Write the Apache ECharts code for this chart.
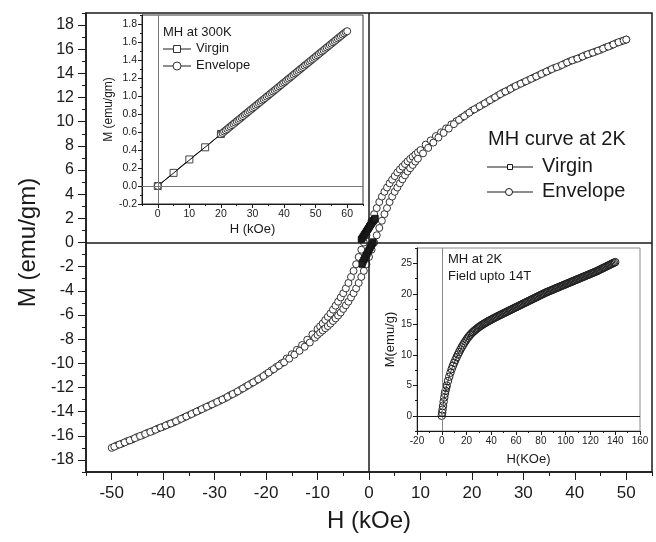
<!DOCTYPE html>
<html>
<head>
<meta charset="utf-8">
<script src="https://cdn.jsdelivr.net/npm/echarts@6.0.0/dist/echarts.min.js"></script>
<style>
  html, body { margin: 0; padding: 0; background: #fff; }
  #chart { width: 656px; height: 542px; }
</style>
</head>
<body>
<div id="chart"></div>
<script>
// ---- main loop at 2K (H in kOe, M in emu/gm) ----
// branch coming down from +50 kOe
const downH = [
  -50, -49, -48, -47, -46, -45, -44, -43, -42, -41, -40, -39, -38, -37, -36, -35, -34, -33, -32, -31,
  -30, -29, -28, -27, -26, -25, -24, -23, -22, -21, -20, -19, -18, -17, -16, -15, -14, -13, -12, -11, -10,
  -9.5, -9, -8.5, -8, -7.5, -7, -6.5, -6, -5.5, -5, -4.5, -4, -3.5, -3, -2.5, -2, -1.5, -1, -0.5,
  0, 0.5, 1, 1.5, 2, 2.5, 3, 3.5, 4, 4.5, 5, 5.5, 6, 6.5, 7, 7.5, 8, 8.5, 9, 9.5,
  10, 11, 12, 13, 14, 15, 16, 17, 18, 19, 20, 21, 22, 23, 24, 25, 26, 27, 28, 29, 30,
  31, 32, 33, 34, 35, 36, 37, 38, 39, 40, 41, 42, 43, 44, 45, 46, 47, 48, 49, 50
];
const downM = [
  -17.0, -16.8, -16.65, -16.45, -16.3, -16.1, -15.95, -15.75, -15.6, -15.4, -15.25, -15.05, -14.9, -14.7, -14.5, -14.3, -14.1, -13.9, -13.7, -13.5,
  -13.3, -13.1, -12.9, -12.65, -12.45, -12.2, -11.95, -11.7, -11.45, -11.2, -10.9, -10.6, -10.3, -10.0, -9.6, -9.25, -8.88, -8.49, -8.05, -7.6, -7.16,
  -6.94, -6.7, -6.42, -6.15, -5.88, -5.56, -5.23, -4.9, -4.55, -4.2, -3.8, -3.35, -2.85, -2.35, -1.8, -1.2, -0.6, 0, 0.6,
  1.2, 1.8, 2.35, 2.85, 3.35, 3.8, 4.2, 4.55, 4.9, 5.2, 5.5, 5.8, 6.05, 6.28, 6.5, 6.72, 6.92, 7.1, 7.28, 7.47,
  7.65, 8.1, 8.45, 8.81, 9.12, 9.45, 9.78, 10.05, 10.33, 10.62, 10.92, 11.15, 11.4, 11.65, 11.9, 12.15, 12.4, 12.6, 12.85, 13.05, 13.25,
  13.45, 13.65, 13.85, 14.05, 14.25, 14.45, 14.6, 14.8, 15.0, 15.15, 15.3, 15.5, 15.65, 15.8, 15.95, 16.15, 16.3, 16.5, 16.65, 16.8
];
// branch going up from -50 kOe (measured on the half-step grid)
const upH = [
  -49.5, -48.5, -47.5, -46.5, -45.5, -44.5, -43.5, -42.5, -41.5, -40.5, -39.5, -38.5, -37.5, -36.5, -35.5, -34.5, -33.5, -32.5, -31.5, -30.5,
  -29.5, -28.5, -27.5, -26.5, -25.5, -24.5, -23.5, -22.5, -21.5, -20.5, -19.5, -18.5, -17.5, -16.5, -15.5, -14.5, -13.5, -12.5, -11.5, -10.5,
  -10, -9.5, -9, -8.5, -8, -7.5, -7, -6.5, -6, -5.5, -5, -4.5, -4, -3.5, -3, -2.5, -2, -1.5, -1, -0.5,
  0, 0.5, 1, 1.5, 2, 2.5, 3, 3.5, 4, 4.5, 5, 5.5, 6, 6.5, 7, 7.5, 8, 8.5, 9, 9.5,
  10.5, 11.5, 12.5, 13.5, 14.5, 15.5, 16.5, 17.5, 18.5, 19.5, 20.5, 21.5, 22.5, 23.5, 24.5, 25.5, 26.5, 27.5, 28.5, 29.5,
  30.5, 31.5, 32.5, 33.5, 34.5, 35.5, 36.5, 37.5, 38.5, 39.5, 40.5, 41.5, 42.5, 43.5, 44.5, 45.5, 46.5, 47.5, 48.5, 49.5, 50
];
const upM = [
  -16.9, -16.72, -16.55, -16.38, -16.2, -16.02, -15.85, -15.68, -15.5, -15.32, -15.15, -14.98, -14.8, -14.6, -14.4, -14.2, -14.0, -13.8, -13.6, -13.4,
  -13.2, -13.0, -12.78, -12.55, -12.32, -12.08, -11.82, -11.58, -11.32, -11.06, -10.77, -10.48, -10.19, -9.92, -9.62, -9.29, -8.97, -8.63, -8.28, -7.88,
  -7.65, -7.47, -7.28, -7.1, -6.92, -6.72, -6.5, -6.28, -6.05, -5.8, -5.5, -5.2, -4.9, -4.55, -4.2, -3.8, -3.35, -2.85, -2.35, -1.8,
  -1.2, -0.6, 0, 0.6, 1.2, 1.8, 2.35, 2.85, 3.35, 3.8, 4.2, 4.55, 4.9, 5.23, 5.56, 5.88, 6.15, 6.42, 6.7, 6.94,
  7.38, 7.83, 8.27, 8.69, 9.07, 9.43, 9.8, 10.15, 10.45, 10.75, 11.03, 11.28, 11.52, 11.78, 12.02, 12.28, 12.5, 12.72, 12.95, 13.15,
  13.35, 13.55, 13.75, 13.95, 14.15, 14.35, 14.52, 14.7, 14.9, 15.08, 15.22, 15.4, 15.58, 15.72, 15.88, 16.05, 16.22, 16.4, 16.58, 16.72, 16.8
];
// virgin points near the origin (two short runs, null = break)
const virginH = [-1.5, -1.3, -1.1, -0.9, -0.7, -0.5, -0.3, -0.1, 0.1, 0.3, 0.5, 0.7, 0.9, 1.05, 1.2, null,
  0.8, 0.6, 0.4, 0.2, 0, -0.2, -0.4, -0.6, -0.8, -1.0, -1.2, -1.35];
const virginM = [0.25, 0.38, 0.52, 0.65, 0.78, 0.92, 1.05, 1.18, 1.32, 1.45, 1.58, 1.7, 1.8, 1.9, 2.0, null,
  0.05, -0.12, -0.28, -0.45, -0.62, -0.78, -0.95, -1.12, -1.28, -1.45, -1.62, -1.8];

// ---- inset: MH at 300K ----
const rtVirginH = [0, 5, 10, 15, 20];
const rtVirginM = [0, 0.146, 0.295, 0.43, 0.578];
const rtEnvH = [0,
  20, 20.5, 21, 21.5, 22, 22.5, 23, 23.5, 24, 24.5, 25, 25.5, 26, 26.5, 27, 27.5, 28, 28.5, 29, 29.5,
  30, 30.5, 31, 31.5, 32, 32.5, 33, 33.5, 34, 34.5, 35, 35.5, 36, 36.5, 37, 37.5, 38, 38.5, 39, 39.5,
  40, 40.5, 41, 41.5, 42, 42.5, 43, 43.5, 44, 44.5, 45, 45.5, 46, 46.5, 47, 47.5, 48, 48.5, 49, 49.5,
  50, 50.5, 51, 51.5, 52, 52.5, 53, 53.5, 54, 54.5, 55, 55.5, 56, 56.5, 57, 57.5, 58, 58.5, 59, 59.5, 60];
const rtEnvM = [0,
  0.575, 0.589, 0.604, 0.618, 0.632, 0.647, 0.661, 0.676, 0.69, 0.704, 0.719, 0.733, 0.747, 0.762, 0.776, 0.791, 0.805, 0.819, 0.834, 0.848,
  0.862, 0.877, 0.891, 0.906, 0.92, 0.934, 0.949, 0.963, 0.977, 0.992, 1.006, 1.021, 1.035, 1.049, 1.064, 1.078, 1.092, 1.107, 1.121, 1.136,
  1.15, 1.164, 1.179, 1.193, 1.207, 1.222, 1.236, 1.251, 1.265, 1.279, 1.294, 1.308, 1.322, 1.337, 1.351, 1.366, 1.38, 1.394, 1.409, 1.423,
  1.437, 1.452, 1.466, 1.481, 1.495, 1.509, 1.524, 1.538, 1.552, 1.567, 1.581, 1.596, 1.61, 1.624, 1.639, 1.653, 1.667, 1.682, 1.696, 1.71, 1.72];

// ---- inset: MH at 2K up to 14T ----
const hfH = [0, 0.3, 0.6, 1, 1.5, 2, 2.5, 3, 3.5, 4, 5, 6, 7, 8, 9,
  10, 11, 12, 13, 14, 15, 16, 17, 18, 19, 20, 21, 22, 23, 24, 25, 26, 27, 28, 29,
  30, 31, 32, 33, 34, 35, 36, 37, 38, 39, 40, 41, 42, 43, 44, 45, 46, 47, 48, 49,
  50, 51, 52, 53, 54, 55, 56, 57, 58, 59, 60, 61, 62, 63, 64, 65, 66, 67, 68, 69,
  70, 71, 72, 73, 74, 75, 76, 77, 78, 79, 80, 81, 82, 83, 84, 85, 86, 87, 88, 89,
  90, 91, 92, 93, 94, 95, 96, 97, 98, 99, 100, 101, 102, 103, 104, 105, 106, 107, 108, 109,
  110, 111, 112, 113, 114, 115, 116, 117, 118, 119, 120, 121, 122, 123, 124, 125, 126, 127, 128, 129,
  130, 131, 132, 133, 134, 135, 136, 137, 138, 139, 140];
const hfM = [0, 0.5, 1.0, 1.6, 2.3, 3.0, 3.6, 4.1, 4.55, 4.95, 5.7, 6.4, 7.05, 7.65, 8.2,
  8.68, 9.15, 9.6, 10.03, 10.44, 10.83, 11.2, 11.55, 11.88, 12.2, 12.5, 12.78, 13.04, 13.28, 13.5, 13.7, 13.88, 14.05, 14.22, 14.38,
  14.54, 14.68, 14.82, 14.95, 15.08, 15.2, 15.32, 15.44, 15.55, 15.66, 15.77, 15.88, 15.99, 16.09, 16.2, 16.3, 16.4, 16.5, 16.6, 16.7,
  16.8, 16.9, 17.0, 17.1, 17.2, 17.3, 17.4, 17.5, 17.6, 17.7, 17.8, 17.9, 18.0, 18.1, 18.2, 18.3, 18.4, 18.5, 18.6, 18.7,
  18.8, 18.9, 19.0, 19.1, 19.2, 19.3, 19.4, 19.5, 19.6, 19.7, 19.8, 19.9, 20.0, 20.1, 20.2, 20.28, 20.37, 20.45, 20.54, 20.62,
  20.71, 20.8, 20.88, 20.97, 21.05, 21.14, 21.22, 21.31, 21.39, 21.48, 21.56, 21.65, 21.73, 21.82, 21.9, 21.99, 22.07, 22.16, 22.24, 22.33,
  22.41, 22.5, 22.58, 22.67, 22.75, 22.84, 22.92, 23.01, 23.09, 23.18, 23.26, 23.35, 23.43, 23.52, 23.6, 23.69, 23.79, 23.89, 23.99, 24.09,
  24.19, 24.29, 24.39, 24.49, 24.59, 24.69, 24.79, 24.89, 24.99, 25.09, 25.19];

// tick label values
const mainXTicks = [-50, -40, -30, -20, -10, 0, 10, 20, 30, 40, 50];
const mainYTicks = [-18, -16, -14, -12, -10, -8, -6, -4, -2, 0, 2, 4, 6, 8, 10, 12, 14, 16, 18];
const rtXTicks = [0, 10, 20, 30, 40, 50, 60];
const rtYTicks = [-0.2, 0, 0.2, 0.4, 0.6, 0.8, 1.0, 1.2, 1.4, 1.6, 1.8];
const hfXTicks = [-20, 0, 20, 40, 60, 80, 100, 120, 140, 160];
const hfYTicks = [0, 5, 10, 15, 20, 25];

const FONT = '"Liberation Sans", Arial, Helvetica, sans-serif';
const INK = '#1a1a1a';

function pairs(xs, ys) {
  return xs.map((x, i) => (x === null ? [null, null] : [x, ys[i]]));
}

function onList(list, v) {
  return list.some(t => Math.abs(t - v) < 1e-6);
}

// each axis is drawn twice: one carries the minor ticks + labels, the other the long major ticks
function axisPair(o) {
  const minor = {
    type: 'value', gridIndex: o.grid, position: o.pos,
    min: o.min, max: o.max, interval: o.step,
    name: o.name, nameLocation: 'middle', nameGap: o.nameGap,
    nameTextStyle: { fontFamily: FONT, fontSize: o.nameSize, color: INK },
    axisLine: { show: true, onZero: false, lineStyle: { color: INK, width: o.lineWidth } },
    axisTick: { show: true, inside: false, length: o.minorLen, lineStyle: { color: INK, width: 1 } },
    axisLabel: {
      show: true, margin: o.margin, fontFamily: FONT, fontSize: o.labelSize, color: INK,
      showMinLabel: true, showMaxLabel: true,
      formatter: v => (onList(o.ticks, v) ? o.fmt(v) : '')
    },
    splitLine: { show: false }
  };
  const major = {
    type: 'value', gridIndex: o.grid, position: o.pos,
    min: o.min, max: o.max,
    axisLine: { show: false, onZero: false },
    axisTick: { show: true, inside: false, length: o.majorLen, customValues: o.ticks, lineStyle: { color: INK, width: 1 } },
    axisLabel: { show: false },
    splitLine: { show: false }
  };
  return [minor, major];
}

const intFmt = v => String(Math.round(v));
const oneDec = v => (Math.abs(v) < 1e-9 ? '0.0' : v.toFixed(1));

const xAxes = [].concat(
  axisPair({ grid: 0, pos: 'bottom', min: -55, max: 55, step: 5, ticks: mainXTicks, fmt: intFmt,
    name: 'H (kOe)', nameGap: 37, nameSize: 24, labelSize: 17, margin: 13, minorLen: 4, majorLen: 8, lineWidth: 1.5 }),
  axisPair({ grid: 1, pos: 'bottom', min: -5, max: 65, step: 5, ticks: rtXTicks, fmt: intFmt,
    name: 'H (kOe)', nameGap: 19, nameSize: 13, labelSize: 10.5, margin: 5, minorLen: 2, majorLen: 4, lineWidth: 1 }),
  axisPair({ grid: 2, pos: 'bottom', min: -20, max: 160, step: 10, ticks: hfXTicks, fmt: intFmt,
    name: 'H(KOe)', nameGap: 22, nameSize: 13, labelSize: 10, margin: 5, minorLen: 2, majorLen: 4, lineWidth: 1 })
);
const yAxes = [].concat(
  axisPair({ grid: 0, pos: 'left', min: -19, max: 19, step: 1, ticks: mainYTicks, fmt: intFmt,
    name: 'M (emu/gm)', nameGap: 44, nameSize: 24, labelSize: 16, margin: 12, minorLen: 4, majorLen: 8, lineWidth: 1.5 }),
  axisPair({ grid: 1, pos: 'left', min: -0.2, max: 1.9, step: 0.1, ticks: rtYTicks, fmt: oneDec,
    name: 'M (emu/gm)', nameGap: 25, nameSize: 12, labelSize: 10.5, margin: 5, minorLen: 2, majorLen: 4, lineWidth: 1 }),
  axisPair({ grid: 2, pos: 'left', min: -2.5, max: 27.5, step: 2.5, ticks: hfYTicks, fmt: intFmt,
    name: 'M(emu/g)', nameGap: 20, nameSize: 13, labelSize: 10, margin: 5, minorLen: 2, majorLen: 4, lineWidth: 1 })
);

const openCircle = { color: '#fff', borderColor: '#333', borderWidth: 1 };

const chart = echarts.init(document.getElementById('chart'), null, { renderer: 'canvas' });

chart.setOption({
  animation: false,
  backgroundColor: '#fff',
  grid: [
    { left: 86, top: 13, width: 566, height: 459, show: true, borderColor: INK, borderWidth: 1.5, backgroundColor: 'transparent', outerBoundsMode: 'none' },
    { left: 142, top: 15, width: 221, height: 189, show: true, borderColor: '#333', borderWidth: 1, backgroundColor: '#fff', outerBoundsMode: 'none' },
    { left: 417, top: 248, width: 223, height: 183, show: true, borderColor: '#8a8a8a', borderWidth: 1, backgroundColor: '#fff', outerBoundsMode: 'none' }
  ],
  xAxis: xAxes,
  yAxis: yAxes,
  series: [
    {
      name: 'Envelope', type: 'line', xAxisIndex: 0, yAxisIndex: 0,
      data: pairs(downH, downM),
      symbol: 'circle', symbolSize: 7, showAllSymbol: true,
      lineStyle: { color: '#333', width: 0.8 }, itemStyle: openCircle, z: 3,
      markLine: {
        silent: true, symbol: 'none', animation: false, label: { show: false },
        lineStyle: { color: INK, width: 1.5, type: 'solid' },
        data: [{ xAxis: 0 }, { yAxis: 0 }]
      }
    },
    {
      name: 'Envelope', type: 'line', xAxisIndex: 0, yAxisIndex: 0,
      data: pairs(upH, upM),
      symbol: 'circle', symbolSize: 7, showAllSymbol: true,
      lineStyle: { color: '#333', width: 0.8 }, itemStyle: openCircle, z: 3
    },
    {
      name: 'Virgin', type: 'line', xAxisIndex: 0, yAxisIndex: 0,
      data: pairs(virginH, virginM), connectNulls: false,
      symbol: 'rect', symbolSize: 6, showAllSymbol: true,
      lineStyle: { color: '#111', width: 1.5 },
      itemStyle: { color: '#222', borderColor: '#111', borderWidth: 1 }, z: 4
    },
    {
      name: 'Virgin 300K', type: 'line', xAxisIndex: 2, yAxisIndex: 2,
      data: pairs(rtVirginH, rtVirginM),
      symbol: 'rect', symbolSize: 7,
      lineStyle: { color: '#111', width: 1 },
      itemStyle: { color: '#fff', borderColor: '#444', borderWidth: 1 }, z: 3,
      markLine: {
        silent: true, symbol: 'none', animation: false, label: { show: false },
        lineStyle: { color: '#777', width: 1, type: 'solid' },
        data: [{ xAxis: 0 }, { yAxis: 0 }]
      }
    },
    {
      name: 'Envelope 300K', type: 'line', xAxisIndex: 2, yAxisIndex: 2,
      data: pairs(rtEnvH, rtEnvM),
      symbol: 'circle', symbolSize: 7, showAllSymbol: true,
      lineStyle: { color: '#111', width: 1 }, itemStyle: openCircle, z: 4
    },
    {
      name: 'Envelope 14T', type: 'line', xAxisIndex: 4, yAxisIndex: 4,
      data: pairs(hfH, hfM),
      symbol: 'circle', symbolSize: 7.5, showAllSymbol: true,
      lineStyle: { color: '#222', width: 0.8 },
      itemStyle: { color: 'rgba(255,255,255,0)', borderColor: '#222', borderWidth: 1 }, z: 3,
      markLine: {
        silent: true, symbol: 'none', animation: false, label: { show: false },
        lineStyle: { width: 1, type: 'solid' },
        data: [
          { xAxis: 0, lineStyle: { color: '#8a8a8a', width: 1, type: 'solid' } },
          { yAxis: 0, lineStyle: { color: INK, width: 1, type: 'solid' } }
        ]
      }
    }
  ],
  graphic: [
    // main legend
    { type: 'text', left: 488, top: 129, z: 100, style: { text: 'MH curve at 2K', font: '20px ' + FONT, fill: INK } },
    { type: 'line', z: 100, shape: { x1: 487, y1: 167, x2: 533, y2: 167 }, style: { stroke: INK, lineWidth: 1 } },
    { type: 'rect', z: 101, shape: { x: 507.5, y: 164.5, width: 5, height: 5 }, style: { fill: '#fff', stroke: INK, lineWidth: 1 } },
    { type: 'text', left: 542, top: 156, z: 100, style: { text: 'Virgin', font: '20px ' + FONT, fill: INK } },
    { type: 'line', z: 100, shape: { x1: 487, y1: 192, x2: 533, y2: 192 }, style: { stroke: INK, lineWidth: 1 } },
    { type: 'circle', z: 101, shape: { cx: 509, cy: 192, r: 3.5 }, style: { fill: '#fff', stroke: INK, lineWidth: 1 } },
    { type: 'text', left: 542, top: 181, z: 100, style: { text: 'Envelope', font: '20px ' + FONT, fill: INK } },
    // 300K inset legend
    { type: 'text', left: 163, top: 26, z: 100, style: { text: 'MH at 300K', font: '13px ' + FONT, fill: INK } },
    { type: 'line', z: 100, shape: { x1: 163, y1: 49, x2: 191, y2: 49 }, style: { stroke: INK, lineWidth: 1 } },
    { type: 'rect', z: 101, shape: { x: 173.5, y: 45.5, width: 7, height: 7 }, style: { fill: '#fff', stroke: '#333', lineWidth: 1 } },
    { type: 'text', left: 196, top: 42, z: 100, style: { text: 'Virgin', font: '13px ' + FONT, fill: INK } },
    { type: 'line', z: 100, shape: { x1: 163, y1: 66, x2: 191, y2: 66 }, style: { stroke: INK, lineWidth: 1 } },
    { type: 'circle', z: 101, shape: { cx: 177, cy: 66, r: 4 }, style: { fill: '#fff', stroke: '#333', lineWidth: 1 } },
    { type: 'text', left: 196, top: 59, z: 100, style: { text: 'Envelope', font: '13px ' + FONT, fill: INK } },
    // 14T inset notes
    { type: 'text', left: 448, top: 253, z: 100, style: { text: 'MH at 2K', font: '13px ' + FONT, fill: INK } },
    { type: 'text', left: 448, top: 270, z: 100, style: { text: 'Field upto 14T', font: '13px ' + FONT, fill: INK } }
  ]
});
</script>
</body>
</html>
